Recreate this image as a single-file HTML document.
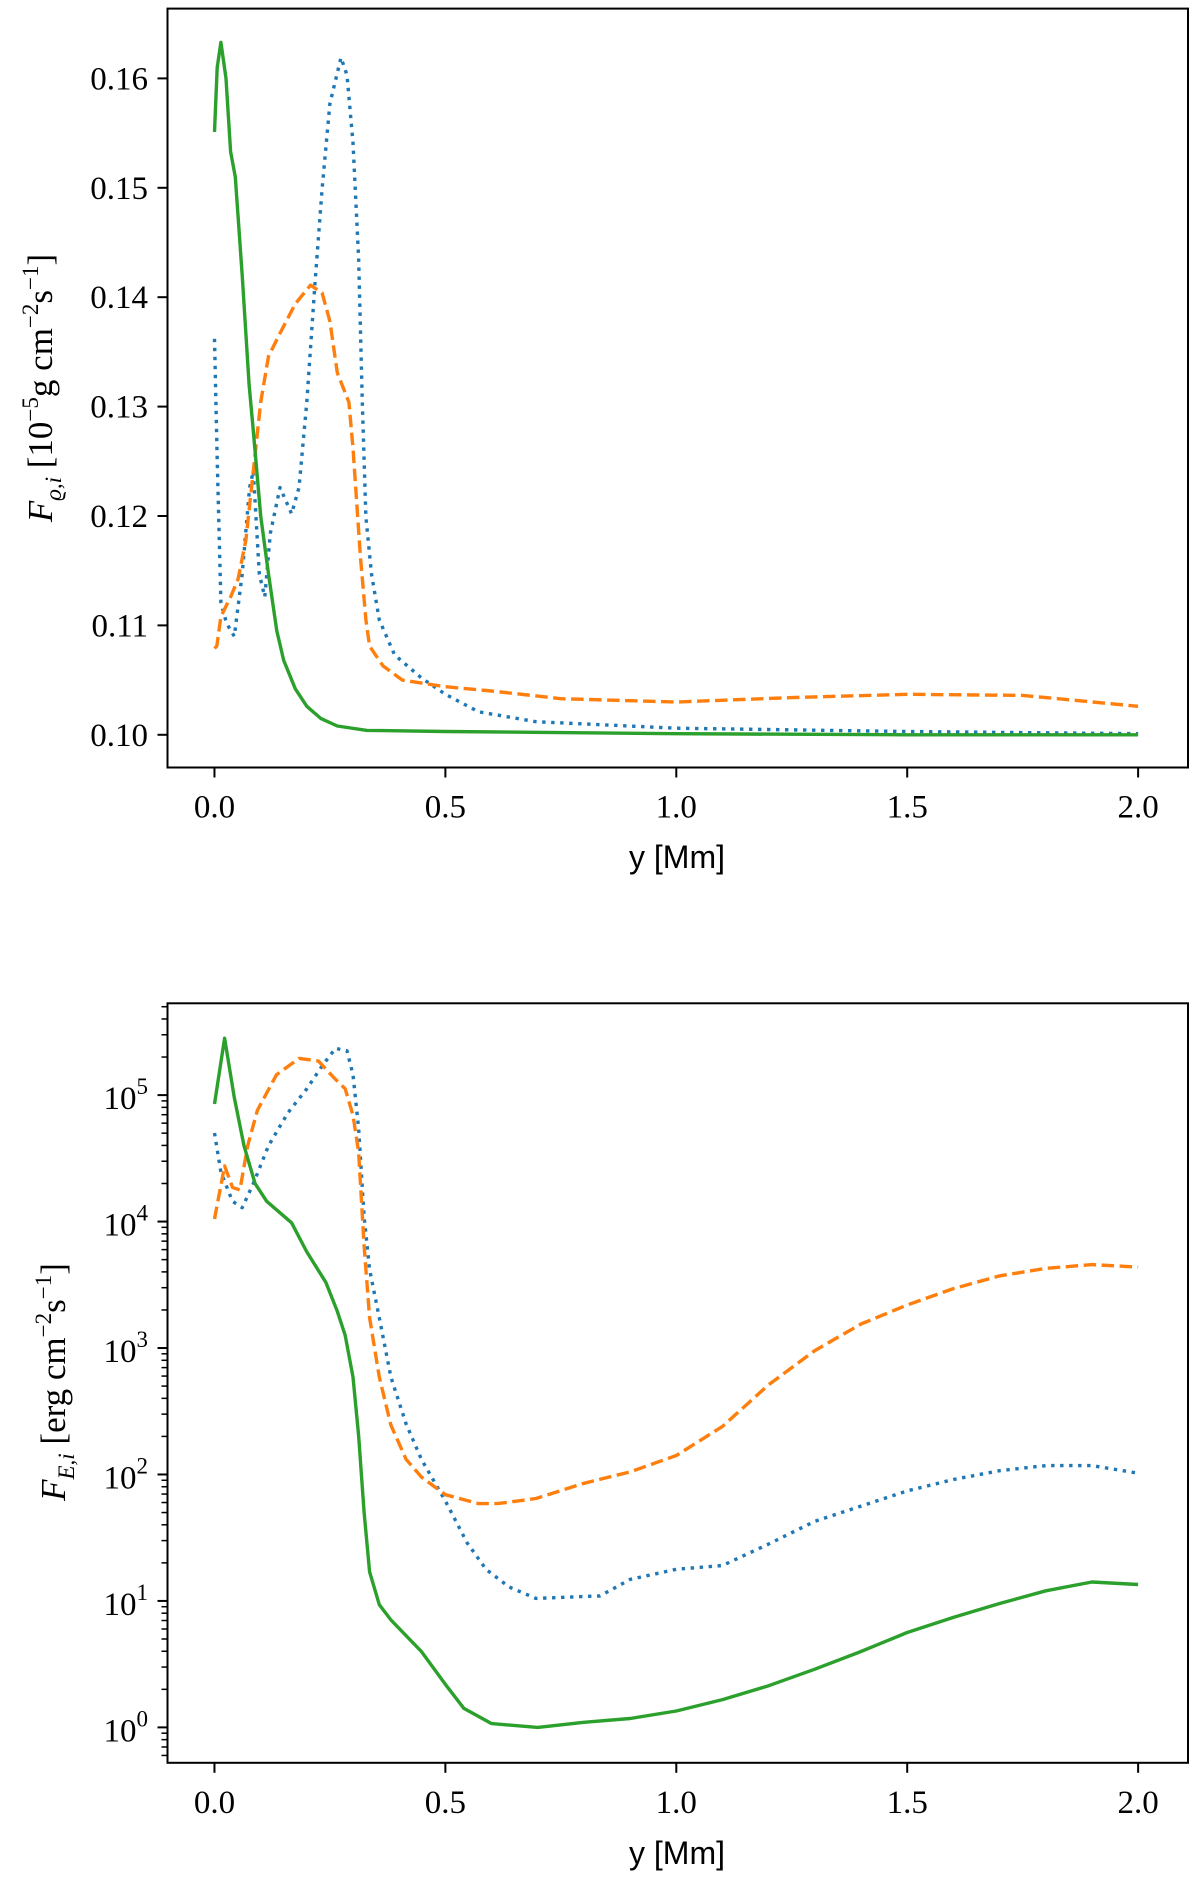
<!DOCTYPE html>
<html><head><meta charset="utf-8"><style>
html,body{margin:0;padding:0;background:#fff;}
svg{display:block;}
.tk{font-family:"Liberation Serif",serif;font-size:33px;fill:#000;}
.xl{font-family:"Liberation Sans","DejaVu Sans",sans-serif;font-size:32px;fill:#000;}
.yl{font-family:"Liberation Serif",serif;font-size:35px;fill:#000;}
</style></head><body>
<svg id="fig" width="1200" height="1879" viewBox="0 0 1200 1879" xmlns="http://www.w3.org/2000/svg">
<g id="top"></g>
<g id="bot"></g>
<text class="yl" transform="translate(52,388) rotate(-90)" text-anchor="middle"><tspan font-style="italic">F</tspan><tspan font-size="23" dy="9" font-style="italic">ϱ,i</tspan><tspan dy="-9"> [10</tspan><tspan font-size="23" dy="-14">−5</tspan><tspan dy="14">g cm</tspan><tspan font-size="23" dy="-14">−2</tspan><tspan dy="14">s</tspan><tspan font-size="23" dy="-14">−1</tspan><tspan dy="14">]</tspan></text>
<text class="yl" transform="translate(65,1382) rotate(-90)" text-anchor="middle"><tspan font-style="italic">F</tspan><tspan font-size="23" dy="9" font-style="italic">E,i</tspan><tspan dy="-9"> [erg cm</tspan><tspan font-size="23" dy="-14">−2</tspan><tspan dy="14">s</tspan><tspan font-size="23" dy="-14">−1</tspan><tspan dy="14">]</tspan></text>
<text class="xl" x="677" y="868" text-anchor="middle">y [Mm]</text>
<text class="xl" x="677" y="1864" text-anchor="middle">y [Mm]</text>
</svg>
<script>
// ---- data ----
const xTicks = [0.0, 0.5, 1.0, 1.5, 2.0];
const xTickLabels = ["0.0", "0.5", "1.0", "1.5", "2.0"];
const topYTicks = [0.10, 0.11, 0.12, 0.13, 0.14, 0.15, 0.16];
const topYTickLabels = ["0.10", "0.11", "0.12", "0.13", "0.14", "0.15", "0.16"];
const botYTickExps = [0, 1, 2, 3, 4, 5];

const topGreenX = [0, 0.006, 0.014, 0.025, 0.035, 0.045, 0.06, 0.075, 0.084, 0.1, 0.117, 0.135, 0.15, 0.175, 0.2, 0.23, 0.266, 0.33, 0.5, 1.0, 1.5, 2.0];
const topGreenY = [0.1551, 0.161, 0.1633, 0.160, 0.1533, 0.151, 0.142, 0.132, 0.1278, 0.120, 0.1147, 0.1095, 0.1068, 0.1042, 0.1026, 0.1015, 0.1008, 0.1004, 0.1003, 0.1001, 0.1000, 0.1000];

const topOrangeX = [0, 0.005, 0.014, 0.035, 0.051, 0.068, 0.084, 0.1, 0.117, 0.142, 0.175, 0.208, 0.233, 0.25, 0.266, 0.291, 0.3, 0.316, 0.328, 0.336, 0.365, 0.407, 0.5, 0.6, 0.75, 1.0, 1.25, 1.5, 1.75, 2.0];
const topOrangeY = [0.1079, 0.1081, 0.1108, 0.1126, 0.1142, 0.1178, 0.1241, 0.1304, 0.1346, 0.1367, 0.1394, 0.1411, 0.1404, 0.1378, 0.1331, 0.1304, 0.1262, 0.1163, 0.1105, 0.1081, 0.1063, 0.105, 0.1044, 0.1040, 0.1033, 0.1030, 0.1034, 0.1037, 0.1036, 0.1026];

const topBlueX = [0, 0.006, 0.014, 0.026, 0.043, 0.06, 0.076, 0.084, 0.097, 0.109, 0.121, 0.142, 0.167, 0.183, 0.2, 0.217, 0.233, 0.25, 0.274, 0.287, 0.3, 0.312, 0.32, 0.328, 0.34, 0.357, 0.39, 0.448, 0.5, 0.572, 0.696, 1.0, 1.5, 2.0];
const topBlueY = [0.1362, 0.1252, 0.1121, 0.1102, 0.109, 0.1147, 0.1226, 0.1241, 0.1147, 0.1126, 0.1184, 0.1226, 0.1202, 0.1226, 0.1304, 0.1409, 0.1499, 0.1577, 0.1619, 0.1603, 0.1541, 0.1436, 0.1304, 0.1199, 0.1147, 0.1105, 0.1073, 0.1052, 0.1037, 0.1021, 0.1012, 0.1006, 0.1003, 0.1001];

// bottom panel: log10 of flux
const botGreenX = [0, 0.022, 0.043, 0.064, 0.088, 0.113, 0.167, 0.2, 0.241, 0.266, 0.283, 0.3, 0.312, 0.324, 0.336, 0.357, 0.382, 0.448, 0.5, 0.54, 0.6, 0.7, 0.8, 0.9, 1.0, 1.1, 1.2, 1.3, 1.4, 1.5, 1.6, 1.7, 1.8, 1.9, 2.0];
const botGreenLog = [4.93, 5.45, 4.98, 4.6, 4.3, 4.16, 3.99, 3.76, 3.52, 3.29, 3.1, 2.77, 2.31, 1.7, 1.23, 0.97, 0.85, 0.6, 0.34, 0.15, 0.03, 0.0, 0.04, 0.07, 0.13, 0.22, 0.33, 0.46, 0.6, 0.75, 0.87, 0.98, 1.08, 1.15, 1.13];

const botOrangeX = [0, 0.022, 0.039, 0.055, 0.072, 0.093, 0.134, 0.183, 0.225, 0.258, 0.283, 0.3, 0.312, 0.324, 0.336, 0.357, 0.382, 0.415, 0.448, 0.5, 0.572, 0.613, 0.696, 0.8, 0.9, 1.0, 1.1, 1.2, 1.3, 1.4, 1.5, 1.6, 1.7, 1.8, 1.9, 2.0];
const botOrangeLog = [4.02, 4.44, 4.27, 4.25, 4.6, 4.88, 5.16, 5.29, 5.27, 5.14, 5.05, 4.84, 4.55, 3.81, 3.24, 2.77, 2.39, 2.12, 1.98, 1.84, 1.77, 1.77, 1.81, 1.93, 2.02, 2.15, 2.38, 2.71, 2.98, 3.19, 3.34, 3.47, 3.57, 3.63, 3.66, 3.64];

const botBlueX = [0, 0.014, 0.039, 0.06, 0.084, 0.117, 0.159, 0.2, 0.233, 0.262, 0.287, 0.3, 0.312, 0.324, 0.336, 0.357, 0.382, 0.415, 0.448, 0.5, 0.547, 0.588, 0.638, 0.696, 0.835, 0.9, 1.0, 1.1, 1.2, 1.3, 1.4, 1.5, 1.6, 1.7, 1.8, 1.9, 2.0];
const botBlueLog = [4.70, 4.39, 4.16, 4.11, 4.3, 4.6, 4.86, 5.05, 5.23, 5.37, 5.35, 5.16, 4.74, 4.04, 3.62, 3.24, 2.77, 2.4, 2.12, 1.79, 1.46, 1.25, 1.11, 1.02, 1.04, 1.17, 1.25, 1.28, 1.45, 1.63, 1.75, 1.87, 1.96, 2.03, 2.07, 2.07, 2.01];

// ---- drawing ----
const NS = "http://www.w3.org/2000/svg";
function mk(tag, parent, attrs) {
  const e = document.createElementNS(NS, tag);
  for (const k in attrs) e.setAttribute(k, attrs[k]);
  parent.appendChild(e);
  return e;
}
const L = 167.5, R = 1188;
const xMin = -0.1017, xMax = 2.108;
function xs(v) { return L + (v - xMin) / (xMax - xMin) * (R - L); }

function panel(T, B, yMin, yMax) {
  return function (v) { return B - (v - yMin) / (yMax - yMin) * (B - T); };
}

function drawLine(g, X, Y, ys, color, dash, name) {
  let d = "";
  for (let i = 0; i < X.length; i++) d += (i ? "L" : "M") + xs(X[i]).toFixed(1) + "," + ys(Y[i]).toFixed(1);
  const p = mk("path", g, { d: d, fill: "none", stroke: color, "stroke-width": 3.4, "stroke-linejoin": "round" });
  if (dash) p.setAttribute("stroke-dasharray", dash);
  
  
}

function axesFrame(g, T, B, prefix) {
  const r = mk("rect", g, { x: L, y: T, width: R - L, height: B - T, fill: "none", stroke: "#000", "stroke-width": 2 });
  
  
  for (let i = 0; i < xTicks.length; i++) {
    const x = xs(xTicks[i]);
    const t = mk("line", g, { x1: x, x2: x, y1: B, y2: B + 10, stroke: "#000", "stroke-width": 2 });
    
    
    const lb = mk("text", g, { x: x, y: B + 50, "text-anchor": "middle", class: "tk" });
    lb.textContent = xTickLabels[i];
    
    
  }
}

// top panel
const gT = document.getElementById("top");
const tT = 8.6, tB = 767.5;
const ysT = panel(tT, tB, 0.09701, 0.16638);
axesFrame(gT, tT, tB, "top");
for (let i = 0; i < topYTicks.length; i++) {
  const y = ysT(topYTicks[i]);
  const t = mk("line", gT, { x1: L - 10, x2: L, y1: y, y2: y, stroke: "#000", "stroke-width": 2 });
  
  
  const lb = mk("text", gT, { x: 148, y: y + 11, "text-anchor": "end", class: "tk" });
  lb.textContent = topYTickLabels[i];
  
  
}
drawLine(gT, topBlueX, topBlueY, ysT, "#1f77b4", "3.4,5.6", "top-blue-dotted-line");
drawLine(gT, topOrangeX, topOrangeY, ysT, "#ff7f0e", "12.5,5.5", "top-orange-dashed-line");
drawLine(gT, topGreenX, topGreenY, ysT, "#2ca02c", null, "top-green-solid-line");

// bottom panel
const gB = document.getElementById("bot");
const bT = 1003.3, bB = 1762.8;
const ysB = panel(bT, bB, -0.28, 5.726);
axesFrame(gB, bT, bB, "bottom");
for (let e = -1; e <= 5; e++) {
  for (let m = 2; m <= 9; m++) {
    const lv = e + Math.log10(m);
    if (lv < -0.28 || lv > 5.726) continue;
    const y = ysB(lv);
    const t = mk("line", gB, { x1: L - 6, x2: L, y1: y, y2: y, stroke: "#000", "stroke-width": 1.5 });
    
    
  }
}
for (let i = 0; i < botYTickExps.length; i++) {
  const y = ysB(botYTickExps[i]);
  const t = mk("line", gB, { x1: L - 10, x2: L, y1: y, y2: y, stroke: "#000", "stroke-width": 2 });
  
  
  const lb = mk("text", gB, { x: 148, y: y + 14, "text-anchor": "end", class: "tk" });
  const a = mk("tspan", lb, {});
  a.textContent = "10";
  const b = mk("tspan", lb, { "font-size": "23", dy: "-15" });
  b.textContent = String(botYTickExps[i]);
  
  
}
drawLine(gB, botBlueX, botBlueLog, ysB, "#1f77b4", "3.4,5.6", "bottom-blue-dotted-line");
drawLine(gB, botOrangeX, botOrangeLog, ysB, "#ff7f0e", "12.5,5.5", "bottom-orange-dashed-line");
drawLine(gB, botGreenX, botGreenLog, ysB, "#2ca02c", null, "bottom-green-solid-line");
</script>
</body></html>
